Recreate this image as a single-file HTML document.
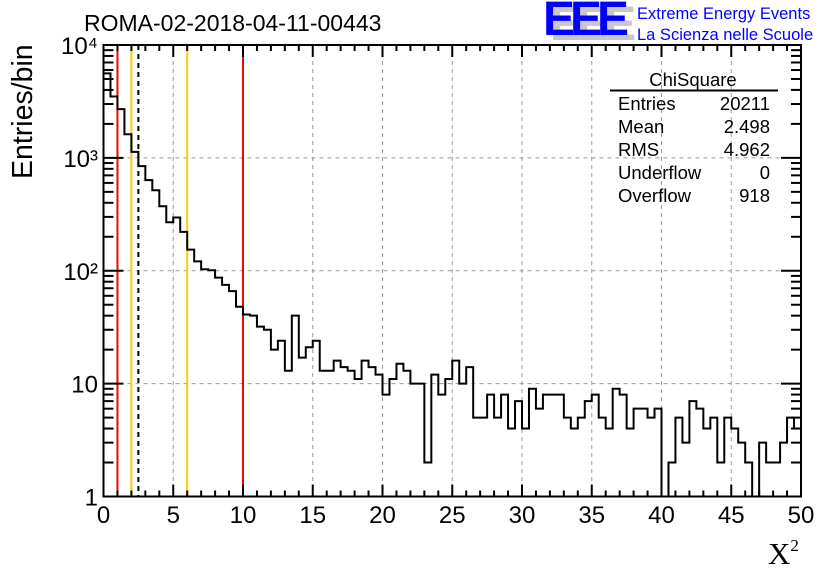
<!DOCTYPE html>
<html><head><meta charset="utf-8"><style>
body{margin:0;background:#fff;}
svg{display:block;font-family:"Liberation Sans",sans-serif;}
</style></head><body>
<svg id="chart" width="836" height="572" viewBox="0 0 836 572" xmlns="http://www.w3.org/2000/svg">
<rect width="836" height="572" fill="#fff"/>
<g id="grid"></g>
<g id="vlines"></g>
<g id="hist"></g>
<g id="axes"></g>
<text x="84" y="31" font-size="23">ROMA-02-2018-04-11-00443</text>
<g>
<text x="550" y="40" font-size="48" font-weight="bold" fill="#c8c8c8" letter-spacing="-5">EEE</text>
<text x="543" y="35" font-size="48" font-weight="bold" fill="#0000ff" letter-spacing="-5">EEE</text>
<text x="637" y="19" font-size="16.5" fill="#0000ff">Extreme Energy Events</text>
<text x="637" y="40" font-size="16.5" fill="#0000ff">La Scienza nelle Scuole</text>
</g>
<g font-size="18.5">
<text x="693" y="86" text-anchor="middle">ChiSquare</text>
<line x1="610" y1="90.5" x2="778" y2="90.5" stroke="#000" stroke-width="2"/>
<text x="618" y="110">Entries</text><text x="770" y="110" text-anchor="end">20211</text>
<text x="618" y="133">Mean</text><text x="770" y="133" text-anchor="end">2.498</text>
<text x="618" y="156">RMS</text><text x="770" y="156" text-anchor="end">4.962</text>
<text x="618" y="179">Underflow</text><text x="770" y="179" text-anchor="end">0</text>
<text x="618" y="202">Overflow</text><text x="770" y="202" text-anchor="end">918</text>
</g>
<text transform="translate(32,179) rotate(-90)" font-size="28.5">Entries/bin</text>
<text x="768" y="564" font-size="31" font-family="Liberation Serif,serif">X<tspan font-size="17" dy="-13">2</tspan></text>
</svg>
<script>
const binEdges = [0, 50];
const counts = [5600,3500,2700,1620,1130,845,635,517,373,269,296,221,154,121,103,101,87,75,66,48,41,40,32,30,20,24,13,40,17,21,24,13,13,16,14,13,11,16,14,12,8,11,15,13,10,10,2,12,8,11,16,10,14,5,5,8,5,8,4,7,4,9,6,8,8,8,5,4,5,7,8,5,4,9,8,4,6,6,5,6,0,2,5,3,7,6,4,5,2,5,4,3,2,0,3,2,2,3,5,4];
const xTicks = [0,5,10,15,20,25,30,35,40,45,50];
const yDecades = [0,1,2,3,4];
const yTickLabels = ["1","10","10²","10³","10⁴"];
const markerX = [1,2,2.5,6,10];
const markerColors = ["#ff0000","#ffcc00","#000","#ffcc00","#ff0000"];

const L=103.5,R=801,T=45,B=496.5;
const NS="http://www.w3.org/2000/svg";
function X(v){return L+(v-binEdges[0])/(binEdges[1]-binEdges[0])*(R-L);}
function Y(v){if(v<=0)return B;return B-Math.log10(v)/4*(B-T);}
function mk(tag,attrs,parent){const e=document.createElementNS(NS,tag);for(const k in attrs)e.setAttribute(k,attrs[k]);parent.appendChild(e);return e;}
const grid=document.getElementById('grid'),vl=document.getElementById('vlines'),hs=document.getElementById('hist'),ax=document.getElementById('axes');
xTicks.slice(1,-1).forEach(t=>{const l=mk('line',{x1:X(t),x2:X(t),y1:T,y2:B,stroke:'#999','stroke-dasharray':'4,4','stroke-width':1},grid);

});
yDecades.slice(1).forEach(d=>{const l=mk('line',{x1:L,x2:R,y1:Y(Math.pow(10,d)),y2:Y(Math.pow(10,d)),stroke:'#999','stroke-dasharray':'4,4','stroke-width':1},grid);

});
const n=counts.length,w=(binEdges[1]-binEdges[0])/n;
let d='M'+X(0)+','+Y(counts[0]);
for(let i=0;i<n;i++){const y=Y(counts[i]);d+=' L'+X(i*w)+','+y+' L'+X((i+1)*w)+','+y;}
const p=mk('path',{d:d,fill:'none',stroke:'#000','stroke-width':2},hs);


const f=mk('rect',{x:L,y:T,width:R-L,height:B-T,fill:'none',stroke:'#000','stroke-width':2},ax);


for(let v=binEdges[0];v<=binEdges[1];v++){const maj=v%5===0,h=maj?12:6;
mk('line',{x1:X(v),x2:X(v),y1:B,y2:B-h,stroke:'#000','stroke-width':2},ax);
mk('line',{x1:X(v),x2:X(v),y1:T,y2:T+h,stroke:'#000','stroke-width':2},ax);}
xTicks.forEach(t=>{const tx=mk('text',{x:X(t),y:523,'font-size':24,'text-anchor':'middle'},ax);tx.textContent=t;

});
for(let dd=0;dd<4;dd++){for(let k=1;k<10;k++){const v=k*Math.pow(10,dd),y=Y(v),h=k===1?20:10;
mk('line',{x1:L,x2:L+h,y1:y,y2:y,stroke:'#000','stroke-width':2},ax);
mk('line',{x1:R,x2:R-h,y1:y,y2:y,stroke:'#000','stroke-width':2},ax);}}
yDecades.forEach((dd,i)=>{const tx=mk('text',{x:98,y:Y(Math.pow(10,dd))+9,'font-size':24,'text-anchor':'end'},ax);tx.textContent=yTickLabels[i];

});
markerX.forEach((m,i)=>{const a={x1:X(m),x2:X(m),y1:T,y2:B,stroke:markerColors[i],'stroke-width':2};if(markerColors[i]==='#000')a['stroke-dasharray']='5,4';
const l=mk('line',a,vl);

});
</script>
</body></html>
